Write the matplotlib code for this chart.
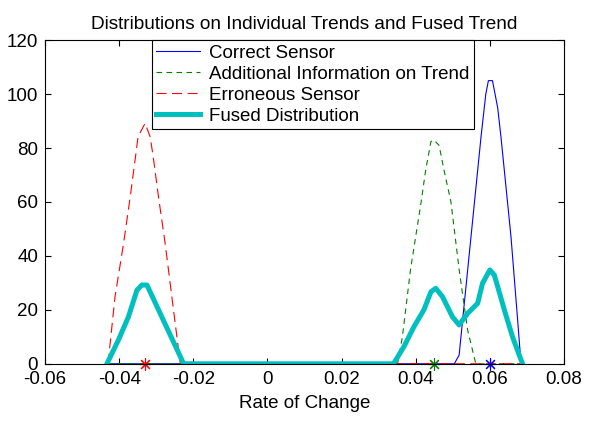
import numpy as np
import matplotlib.pyplot as plt

plt.rcParams['font.family'] = ['Liberation Sans', 'DejaVu Sans']

# rate of change points and densities
correct_x = [-0.043, 0.0504, 0.0517, 0.0576, 0.0589, 0.0596, 0.0607, 0.0621, 0.0630, 0.0657, 0.0675, 0.0684, 0.069]
correct_y = [0, 0, 3.2, 84, 100, 105, 105, 95, 84, 47, 16, 0, 0]

trend_x = [-0.043, 0.0351, 0.0364, 0.0386, 0.0414, 0.0427, 0.0441, 0.0449, 0.0463, 0.0476,
           0.0495, 0.0517, 0.0540, 0.0562, 0.069]
trend_y = [0, 0, 10, 35, 59.5, 72, 82.4, 83, 81, 72, 60, 35, 12.5, 0, 0]

error_x = [-0.043, -0.0411, -0.0388, -0.0370, -0.0357, -0.0349, -0.0330, -0.0316, -0.0307,
           -0.0294, -0.0276, -0.0258, -0.0235, 0.069]
error_y = [0, 25, 44.7, 62, 75.6, 84.2, 89.2, 84, 75.6, 62, 44.7, 25, 0, 0]

fused_x = [-0.0433, -0.0402, -0.0375, -0.0352, -0.0339, -0.0325, -0.0226, 0.0340, 0.0368,
           0.0395, 0.0422, 0.0441, 0.0454, 0.0472, 0.0499, 0.0517, 0.0540, 0.0567, 0.0580,
           0.0600, 0.0612, 0.0639, 0.0661, 0.0688]
fused_y = [0, 8.8, 17.4, 27.3, 29.2, 29.2, 0, 0, 6.3, 13.7, 20, 26.7, 28, 24.9, 17.4, 14.4,
           18.7, 22.4, 29.8, 34.8, 32.9, 20, 10, 0]

# means marked on the axis
means = [0.060, 0.045, -0.033]
mean_colors = ['blue', 'green', 'red']

fig = plt.figure(figsize=(5.89, 4.23), dpi=100)
ax = fig.add_axes([0.0764, 0.140, 0.8812, 0.765])

ax.plot(correct_x, correct_y, color='blue', lw=0.8, label='Correct Sensor')
ax.plot(trend_x, trend_y, color='green', lw=0.8, ls=(0, (5, 4)),
        label='Additional Information on Trend')
ax.plot(error_x, error_y, color='red', lw=0.8, ls=(0, (9, 5)),
        label='Erroneous Sensor')
ax.plot(fused_x, fused_y, color=(0, 0.75, 0.75), lw=3.6, label='Fused Distribution')
for m, c in zip(means, mean_colors):
    ax.plot(m, 0, marker=(8, 2, 0), color=c, ms=9, mew=0.8, clip_on=False)

ax.set_xlim(-0.06, 0.08)
ax.set_ylim(0, 120)
ax.set_xticks(np.arange(-0.06, 0.081, 0.02))
ax.set_xticklabels(['-0.06', '-0.04', '-0.02', '0', '0.02', '0.04', '0.06', '0.08'])
ax.set_yticks(np.arange(0, 121, 20))
ax.tick_params(direction='in', top=True, right=True, labelsize=13.5, length=4, pad=5)
ax.set_xlabel('Rate of Change', fontsize=13.5, labelpad=5)
ax.set_title('Distributions on Individual Trends and Fused Trend', fontsize=13.7, pad=8)

leg = ax.legend(loc='upper center', bbox_to_anchor=(0.516, 1.0), borderaxespad=0,
                fontsize=13.5, fancybox=False, framealpha=1, edgecolor='black',
                handlelength=2.3, handletextpad=0.5, labelspacing=0.2, borderpad=0.25)
leg.get_frame().set_linewidth(0.8)

fig.savefig('out.png', dpi=100)
